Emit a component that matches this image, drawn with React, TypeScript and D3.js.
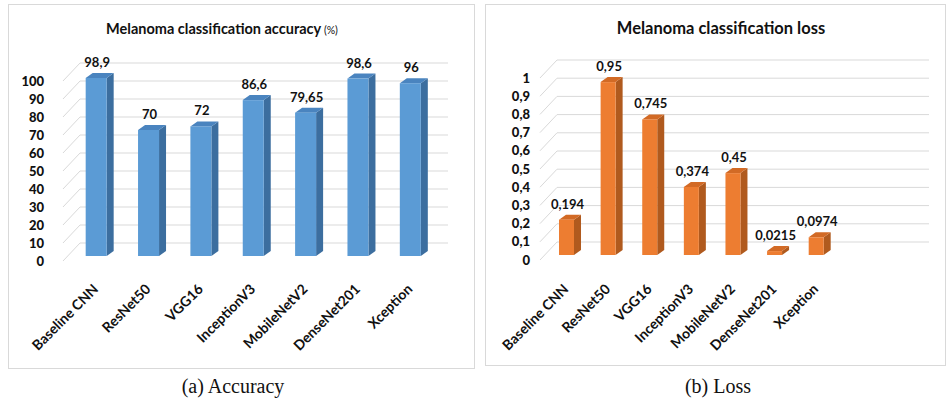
import * as d3 from "d3";
import React from "react";

const models = ["Baseline CNN", "ResNet50", "VGG16", "InceptionV3", "MobileNetV2", "DenseNet201", "Xception"];
const accuracy = [98.9, 70, 72, 86.6, 79.65, 98.6, 96];
const loss = [0.194, 0.95, 0.745, 0.374, 0.45, 0.0215, 0.0974];
const accuracyTicks = [0, 10, 20, 30, 40, 50, 60, 70, 80, 90, 100];
const lossTicks = [0, 0.1, 0.2, 0.3, 0.4, 0.5, 0.6, 0.7, 0.8, 0.9, 1];

// excel style numbers with decimal comma
const fmt = d3
  .formatLocale({ decimal: ",", thousands: ".", grouping: [3], currency: ["", ""] })
  .format("~g");

const FONT = "Lato, 'Open Sans', sans-serif";
const GRID = "#d9d9d9";
const WALL = { dx: 17, dy: -18 }; // side wall depth
const BAR = { dx: 7, dy: -5 }; // bar depth

type PanelProps = {
  title: string;
  suffix?: string;
  titleX: number;
  titleSize: number;
  values: number[];
  ticks: number[];
  yRange: [number, number];
  domainMax: number;
  xRange: [number, number];
  barWidth: number;
  labelRight: number;
  wallLeft: number;
  wallRight: number;
  colors: [string, string, string];
};

const Panel = (p: PanelProps) => {
  const y = d3.scaleLinear().domain([0, p.domainMax]).range(p.yRange);
  const x = d3.scalePoint<string>().domain(models).range(p.xRange).padding(0.5);
  const [front, side, top] = p.colors;
  const bw = p.barWidth;

  return (
    <g>
      <text x={p.titleX} y={34} textAnchor="middle" fontFamily={FONT} fontWeight={700} fontSize={p.titleSize} fill="#111">
        {p.title}
        {p.suffix && (
          <tspan fontSize={10.5} fontWeight={400}>
            {" " + p.suffix}
          </tspan>
        )}
      </text>

      {p.ticks.map((t) => (
        <g key={t}>
          <line
            x1={p.wallLeft}
            x2={p.wallRight}
            y1={y(t) + WALL.dy}
            y2={y(t) + WALL.dy}
            stroke={GRID}
          />
          <line
            x1={p.wallLeft - WALL.dx}
            x2={p.wallLeft}
            y1={y(t)}
            y2={y(t) + WALL.dy}
            stroke={GRID}
          />
          <text
            x={p.labelRight}
            y={y(t)}
            dy="0.35em"
            textAnchor="end"
            fontFamily={FONT}
            fontWeight={900}
            fontSize={13}
            fill="#111"
          >
            {fmt(t)}
          </text>
        </g>
      ))}

      {models.map((m, i) => {
        const cx = x(m) as number;
        const x0 = cx - bw / 2;
        const x1 = cx + bw / 2;
        const yT = y(p.values[i]) - 5;
        const yB = y(0) - 5;
        return (
          <g key={m}>
            <polygon
              points={`${x1},${yT} ${x1 + BAR.dx},${yT + BAR.dy} ${x1 + BAR.dx},${yB + BAR.dy} ${x1},${yB}`}
              fill={side}
            />
            <polygon
              points={`${x0},${yT} ${x0 + BAR.dx},${yT + BAR.dy} ${x1 + BAR.dx},${yT + BAR.dy} ${x1},${yT}`}
              fill={top}
            />
            <rect x={x0} y={yT} width={bw} height={yB - yT} fill={front} />
            <text
              x={cx + 1}
              y={yT - 11}
              textAnchor="middle"
              fontFamily={FONT}
              fontWeight={700}
              fontSize={13}
              fill="#111"
            >
              {fmt(p.values[i])}
            </text>
            <text
              transform={`translate(${cx + 3},${290}) rotate(-45)`}
              textAnchor="end"
              fontFamily={FONT}
              fontWeight={700}
              fontSize={14}
              fill="#111"
            >
              {m}
            </text>
          </g>
        );
      })}
    </g>
  );
};

const App = () => {
  return (
    <svg
      width={946}
      height={408}
      style={{ position: "absolute", left: 0, top: 0, background: "#fff" }}
    >
      <rect x={8.5} y={4.5} width={466} height={364} fill="none" stroke={GRID} />
      <rect x={485.5} y={4.5} width={460} height={361} fill="none" stroke={GRID} />

      <Panel
        title="Melanoma classification accuracy"
        suffix="(%)"
        titleX={222}
        titleSize={14.5}
        values={accuracy}
        ticks={accuracyTicks}
        domainMax={100}
        yRange={[261, 81]}
        xRange={[70, 436.5]}
        barWidth={21}
        labelRight={44}
        wallLeft={80}
        wallRight={448}
        colors={["#5b9bd5", "#3c6e9f", "#4a84bf"]}
      />
      <Panel
        title="Melanoma classification loss"
        titleX={721}
        titleSize={16.5}
        values={loss}
        ticks={lossTicks}
        domainMax={1}
        yRange={[260, 78]}
        xRange={[545.7, 837]}
        barWidth={15}
        labelRight={530}
        wallLeft={557}
        wallRight={929}
        colors={["#ed7d31", "#b05a1e", "#d26a25"]}
      />

      <text x={233} y={393} textAnchor="middle" fontFamily="'Liberation Serif', serif" fontSize={20} fill="#111">
        (a) Accuracy
      </text>
      <text x={718} y={393} textAnchor="middle" fontFamily="'Liberation Serif', serif" fontSize={20} fill="#111">
        (b) Loss
      </text>
    </svg>
  );
};

export default App;
